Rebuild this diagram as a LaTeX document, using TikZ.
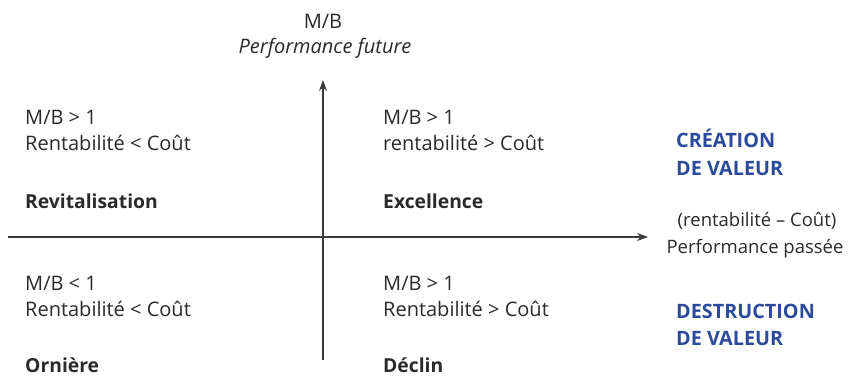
\documentclass[tikz,border=0pt]{standalone}
\usepackage{fontspec}
\setmainfont{Open Sans}
\usetikzlibrary{arrows.meta}
\definecolor{axisgray}{HTML}{3A3A3A}
\definecolor{txtgray}{HTML}{2A2A2A}
\definecolor{valblue}{HTML}{2B4A9B}
\begin{document}
\begin{tikzpicture}[x=1pt,y=-1pt,
  lbl/.style={anchor=base west,inner sep=0pt,text=txtgray,font=\fontsize{20}{24}\selectfont},
  lblc/.style={anchor=base,inner sep=0pt,text=txtgray,font=\fontsize{18.5}{22}\selectfont},
  ttl/.style={lbl,font=\fontsize{19.3}{24}\selectfont\bfseries},
  val/.style={anchor=base west,inner sep=0pt,text=valblue,font=\fontsize{19.8}{24}\selectfont\bfseries},
  axis/.style={draw=axisgray,line width=1.2pt,-{Stealth[length=11pt,width=8pt]}}]
\useasboundingbox (0,0) rectangle (853,378);
% axes
\coordinate (vb) at (323,360);
\coordinate (vt) at (323,80);
\coordinate (hl) at (8,237);
\coordinate (hr) at (648,237);
\draw[axis] (vb) -- (vt);
\draw[axis] (hl) -- (hr);
% top labels
\node[lblc,font=\fontsize{20}{24}\selectfont] (mb) at (323,28) {M/B};
\node[lblc,font=\fontsize{20}{24}\selectfont\itshape] (pf) at (325,53) {Performance future};
% top-left
\node[lbl] (q2a) at (25,124) {M/B > 1};
\node[lbl] (q2b) at (25,150) {Rentabilité < Coût};
\node[ttl] (q2c) at (25,208) {Revitalisation};
% top-right
\node[lbl] (q1a) at (383,124) {M/B > 1};
\node[lbl] (q1b) at (383,150) {rentabilité > Coût};
\node[ttl] (q1c) at (383,208) {Excellence};
% bottom-left
\node[lbl] (q3a) at (25,290) {M/B < 1};
\node[lbl] (q3b) at (25,316) {Rentabilité < Coût};
\node[ttl] (q3c) at (25,372) {Ornière};
% bottom-right
\node[lbl] (q4a) at (383,290) {M/B > 1};
\node[lbl] (q4b) at (383,316) {Rentabilité > Coût};
\node[ttl] (q4c) at (383,372) {Déclin};
% right side
\node[val] (cr1) at (676,147) {CRÉATION};
\node[val] (cr2) at (676,175) {DE VALEUR};
\node[lblc] (rc) at (757,226) {(rentabilité – Coût)};
\node[lblc] (pp) at (755,253) {Performance passée};
\node[val] (de1) at (676,318) {DESTRUCTION};
\node[val] (de2) at (676,345) {DE VALEUR};
\end{tikzpicture}
\end{document}
